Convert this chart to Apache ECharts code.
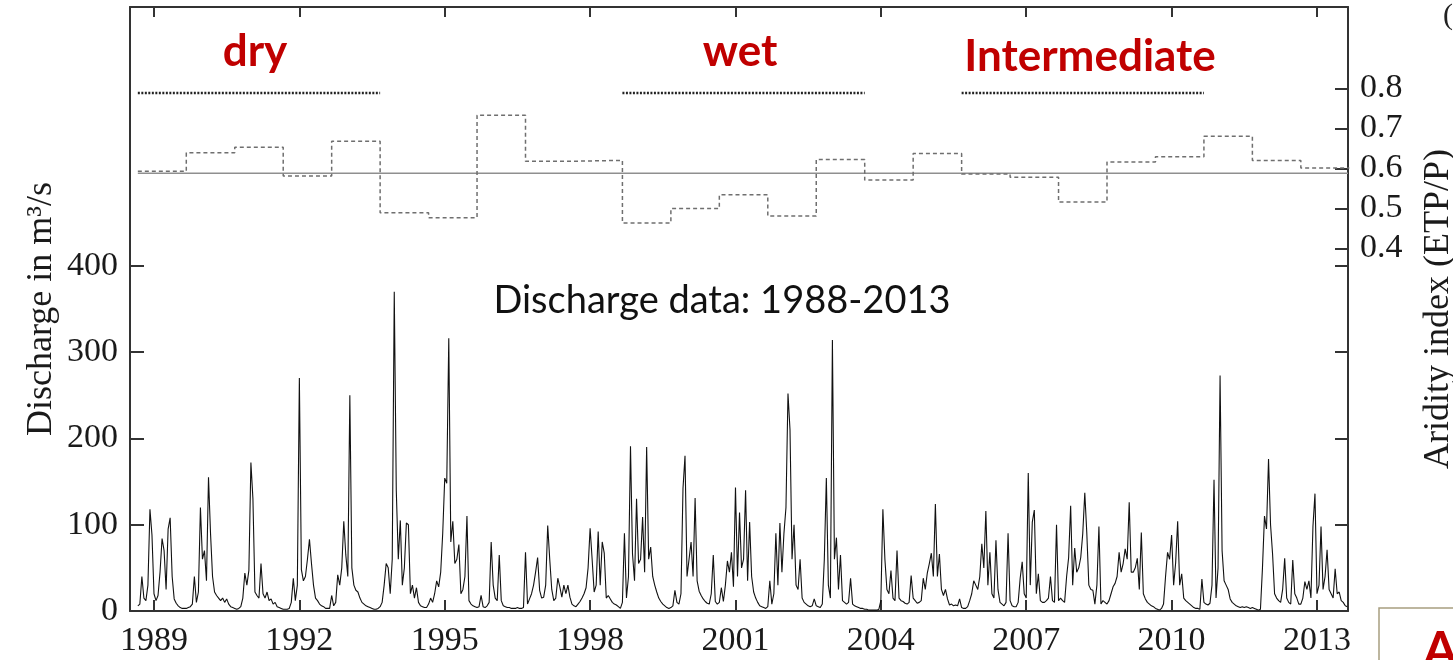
<!DOCTYPE html>
<html><head><meta charset="utf-8">
<script src="https://cdn.jsdelivr.net/npm/echarts@6/dist/echarts.min.js"></script>
<style>html,body{margin:0;padding:0;background:#fff;}#chart{width:1453px;height:660px;}</style>
</head><body><div id="chart"></div>
<script>
// ---- data ----
// Daily discharge at half-month steps, one array per hydrological year (Sep-Aug)
const hydroStart = 1988 + 8 / 12; // 1 Sep 1988
const stepsPerYear = 24;
const q1988 = [6, 8, 40, 15, 12, 30, 118, 88, 20, 12, 18, 45, 84, 70, 25, 95, 108, 40, 14, 9, 6, 4, 3, 3];
const q1989 = [3, 4, 5, 8, 40, 10, 22, 120, 60, 70, 35, 155, 90, 40, 22, 18, 15, 12, 15, 10, 14, 8, 5, 4];
const q1990 = [3, 2, 3, 5, 15, 44, 30, 47, 172, 130, 22, 18, 15, 55, 20, 15, 22, 12, 14, 8, 10, 5, 4, 3];
const q1991 = [2, 2, 2, 3, 10, 38, 12, 30, 270, 48, 35, 40, 60, 83, 55, 30, 15, 12, 8, 6, 5, 3, 3, 3];
const q1992 = [18, 6, 10, 42, 30, 50, 104, 65, 40, 250, 50, 30, 24, 22, 15, 10, 8, 6, 5, 4, 3, 2, 2, 3];
const q1993 = [5, 10, 30, 55, 50, 20, 60, 370, 140, 60, 105, 30, 50, 102, 100, 20, 30, 15, 27, 10, 6, 5, 4, 4];
const q1994 = [8, 15, 10, 20, 35, 28, 45, 90, 154, 148, 316, 80, 104, 55, 60, 77, 20, 25, 40, 110, 12, 8, 6, 5];
const q1995 = [4, 5, 18, 5, 4, 6, 10, 80, 30, 15, 12, 65, 12, 6, 5, 4, 4, 3, 3, 3, 4, 3, 3, 4];
const q1996 = [68, 8, 14, 20, 30, 45, 62, 24, 15, 16, 30, 99, 60, 25, 12, 15, 38, 28, 16, 30, 20, 30, 16, 8];
const q1997 = [6, 5, 8, 11, 15, 20, 27, 50, 96, 60, 22, 30, 92, 30, 80, 67, 15, 18, 14, 10, 8, 7, 5, 3];
const q1998 = [10, 90, 15, 40, 191, 66, 35, 130, 55, 60, 109, 45, 190, 60, 74, 40, 30, 22, 15, 11, 8, 6, 4, 3];
const q1999 = [4, 6, 24, 10, 8, 20, 142, 180, 40, 60, 80, 40, 131, 35, 23, 18, 14, 11, 9, 8, 20, 65, 11, 8];
const q2000 = [10, 27, 11, 30, 58, 45, 68, 28, 143, 40, 114, 50, 60, 140, 35, 103, 40, 22, 15, 10, 6, 5, 4, 3];
const q2001 = [5, 35, 8, 20, 90, 30, 102, 45, 90, 120, 252, 210, 60, 100, 30, 25, 60, 15, 10, 8, 6, 5, 6, 14];
const q2002 = [6, 5, 4, 8, 60, 154, 30, 15, 314, 60, 85, 25, 65, 12, 10, 8, 10, 38, 8, 6, 5, 4, 3, 3];
const q2003 = [2, 2, 1, 1, 1, 1, 1, 2, 12, 118, 60, 25, 20, 47, 15, 12, 70, 15, 12, 11, 9, 8, 10, 41];
const q2004 = [15, 12, 9, 10, 12, 38, 25, 44, 55, 67, 40, 124, 40, 66, 25, 18, 25, 14, 7, 8, 6, 7, 6, 14];
const q2005 = [4, 3, 3, 5, 12, 20, 35, 30, 25, 40, 78, 50, 116, 30, 68, 20, 15, 82, 25, 10, 8, 6, 10, 90];
const q2006 = [12, 6, 5, 5, 10, 38, 57, 20, 15, 160, 30, 103, 117, 20, 43, 12, 10, 10, 12, 15, 40, 12, 10, 100];
const q2007 = [12, 15, 12, 10, 40, 62, 122, 30, 73, 45, 50, 62, 90, 137, 90, 30, 25, 24, 8, 30, 98, 8, 12, 10];
const q2008 = [8, 12, 20, 28, 32, 40, 68, 45, 55, 72, 60, 126, 45, 45, 50, 61, 25, 91, 20, 14, 10, 8, 6, 5];
const q2009 = [3, 2, 1, 3, 8, 40, 68, 60, 88, 30, 56, 104, 30, 43, 15, 12, 10, 8, 6, 4, 3, 3, 2, 37];
const q2010 = [10, 8, 7, 9, 30, 152, 15, 50, 273, 70, 35, 30, 25, 14, 10, 8, 6, 5, 4, 5, 4, 5, 4, 3];
const q2011 = [4, 3, 2, 1, 2, 50, 110, 95, 176, 100, 66, 20, 15, 12, 10, 25, 61, 15, 10, 8, 59, 20, 15, 8];
const q2012 = [8, 15, 34, 25, 35, 15, 98, 136, 20, 30, 98, 25, 40, 71, 25, 20, 15, 49, 20, 22, 12, 10, 6, 5];
const dischargeByYear = [q1988, q1989, q1990, q1991, q1992, q1993, q1994, q1995, q1996, q1997, q1998, q1999,
  q2000, q2001, q2002, q2003, q2004, q2005, q2006, q2007, q2008, q2009, q2010, q2011, q2012];

// Annual aridity index (ETP/P), one value per hydrological year
const aridityIndex = [0.593, 0.639, 0.653, 0.581, 0.668, 0.489, 0.477, 0.733, 0.618, 0.620, 0.464, 0.500, 0.534,
  0.481, 0.622, 0.571, 0.637, 0.586, 0.578, 0.516, 0.616, 0.629, 0.680, 0.620, 0.601];
const aridityMean = 0.588;

// Climate periods
const periodNames = ['dry', 'wet', 'Intermediate'];
const periodStart = [1988 + 8 / 12, 1998 + 8 / 12, 2005 + 8 / 12];
const periodEnd = [1993 + 8 / 12, 2003 + 8 / 12, 2010 + 8 / 12];
const periodLevel = 0.788;

// Axis ticks
const yearTicks = [1989, 1992, 1995, 1998, 2001, 2004, 2007, 2010, 2013];
const dischargeTicks = [0, 100, 200, 300, 400];
const aridityTicks = [0.4, 0.5, 0.6, 0.7, 0.8];
const xMin = 1988.505, xMax = 2013.64;
const dischargeMax = 700;
const aridityMin = -0.505, aridityMax = 1.003;

// ---- build series data ----
const dischargeData = [];
dischargeByYear.forEach((arr, k) => {
  arr.forEach((v, i) => dischargeData.push([hydroStart + k + i / stepsPerYear, v]));
});
const aridityData = aridityIndex.map((v, k) => [hydroStart + k, v]);
aridityData.push([hydroStart + aridityIndex.length, aridityIndex[aridityIndex.length - 1]]);

const axisColor = '#333';
const serif = "'Liberation Serif', 'DejaVu Serif', serif";
const sans = "Lato, 'Open Sans', sans-serif";
const axisLineStyle = { color: axisColor, width: 2 };

const chart = echarts.init(document.getElementById('chart'), null, { renderer: 'canvas' });
const option = {
  animation: false,
  backgroundColor: '#fff',
  grid: { left: 130, right: 105, top: 7, bottom: 49, outerBoundsMode: 'none', containLabel: false },
  xAxis: [
    {
      type: 'value', position: 'bottom', min: xMin, max: xMax,
      splitLine: { show: false },
      axisLine: { show: true, onZero: false, lineStyle: axisLineStyle },
      axisTick: { show: true, inside: true, length: 11, customValues: yearTicks, lineStyle: axisLineStyle },
      axisLabel: { show: true, customValues: yearTicks, formatter: v => String(Math.round(v)), margin: 13,
        fontFamily: serif, fontSize: 34, color: '#1a1a1a' }
    },
    {
      type: 'value', position: 'top', min: xMin, max: xMax,
      splitLine: { show: false },
      axisLine: { show: true, onZero: false, lineStyle: axisLineStyle },
      axisTick: { show: true, inside: true, length: 10, customValues: yearTicks, lineStyle: axisLineStyle },
      axisLabel: { show: false }
    }
  ],
  yAxis: [
    {
      type: 'value', position: 'left', min: 0, max: dischargeMax,
      name: 'Discharge in m³/s', nameLocation: 'middle', nameGap: 70, nameMoveOverlap: false,
      nameTextStyle: { fontFamily: serif, fontSize: 36, color: '#1a1a1a' },
      splitLine: { show: false },
      axisLine: { show: true, onZero: false, lineStyle: axisLineStyle },
      axisTick: { show: true, inside: true, length: 14, customValues: dischargeTicks, lineStyle: axisLineStyle },
      axisLabel: { show: true, customValues: dischargeTicks, margin: 12, fontFamily: serif, fontSize: 34, color: '#1a1a1a' }
    },
    {
      type: 'value', position: 'right', min: aridityMin, max: aridityMax,
      name: 'Aridity index (ETP/P)', nameLocation: 'middle', nameGap: 73, nameMoveOverlap: false,
      nameTextStyle: { fontFamily: serif, fontSize: 36, color: '#1a1a1a' },
      splitLine: { show: false },
      axisLine: { show: true, onZero: false, lineStyle: axisLineStyle },
      axisTick: { show: true, inside: true, length: 13, customValues: aridityTicks, lineStyle: axisLineStyle },
      axisLabel: { show: true, customValues: aridityTicks, formatter: v => v.toFixed(1), margin: 12,
        fontFamily: serif, fontSize: 34, color: '#1a1a1a' }
    },
    {
      type: 'value', position: 'right', min: 0, max: dischargeMax,
      splitLine: { show: false },
      axisLine: { show: false, onZero: false },
      axisTick: { show: true, inside: true, length: 13, customValues: dischargeTicks.slice(1), lineStyle: axisLineStyle },
      axisLabel: { show: false }
    }
  ],
  series: [
    {
      name: 'Discharge', type: 'line', xAxisIndex: 0, yAxisIndex: 0, data: dischargeData,
      showSymbol: false, symbol: 'none', clip: true,
      lineStyle: { color: '#111', width: 1.1 }
    },
    {
      name: 'Aridity mean', type: 'line', xAxisIndex: 0, yAxisIndex: 1,
      data: [[hydroStart, aridityMean], [xMax, aridityMean]],
      showSymbol: false, symbol: 'none', lineStyle: { color: '#8f8f8f', width: 1.5 }
    },
    {
      name: 'Aridity index', type: 'line', xAxisIndex: 0, yAxisIndex: 1, data: aridityData, step: 'end',
      showSymbol: false, symbol: 'none', clip: true,
      lineStyle: { color: '#6f6f6f', width: 1.5, type: [4, 3] }
    }
  ].concat(periodNames.map((n, i) => ({
    name: n + ' period', type: 'line', xAxisIndex: 0, yAxisIndex: 1,
    data: [[periodStart[i], periodLevel], [periodEnd[i], periodLevel]],
    showSymbol: false, symbol: 'none',
    lineStyle: { color: '#222', width: 2.5, type: [2, 1.5] }
  }))),
  graphic: [
    { type: 'text', x: 255, y: 52, style: { text: periodNames[0], fontFamily: sans, fontWeight: 'bold', fontSize: 44, fill: '#c00000', align: 'center', verticalAlign: 'middle' } },
    { type: 'text', x: 740, y: 52, style: { text: periodNames[1], fontFamily: sans, fontWeight: 'bold', fontSize: 44, fill: '#c00000', align: 'center', verticalAlign: 'middle' } },
    { type: 'text', x: 1090, y: 57, style: { text: periodNames[2], fontFamily: sans, fontWeight: 'bold', fontSize: 44, fill: '#c00000', align: 'center', verticalAlign: 'middle' } },
    { type: 'text', x: 722, y: 301, style: { text: 'Discharge data: 1988-2013', fontFamily: sans, fontSize: 38, fill: '#111', align: 'center', verticalAlign: 'middle' } },
    { type: 'text', x: 1448, y: 16, style: { text: '(', fontFamily: serif, fontSize: 30, fill: '#222', align: 'center', verticalAlign: 'middle' } },
    { type: 'rect', shape: { x: 1379, y: 608, width: 120, height: 100 }, style: { fill: '#fff', stroke: '#a89e80', lineWidth: 1.5 } },
    { type: 'text', x: 1423, y: 626, style: { text: 'A', fontFamily: sans, fontWeight: 'bold', fontSize: 50, fill: '#c00000', align: 'left', verticalAlign: 'top' } }
  ]
};
chart.setOption(option);
</script></body></html>
